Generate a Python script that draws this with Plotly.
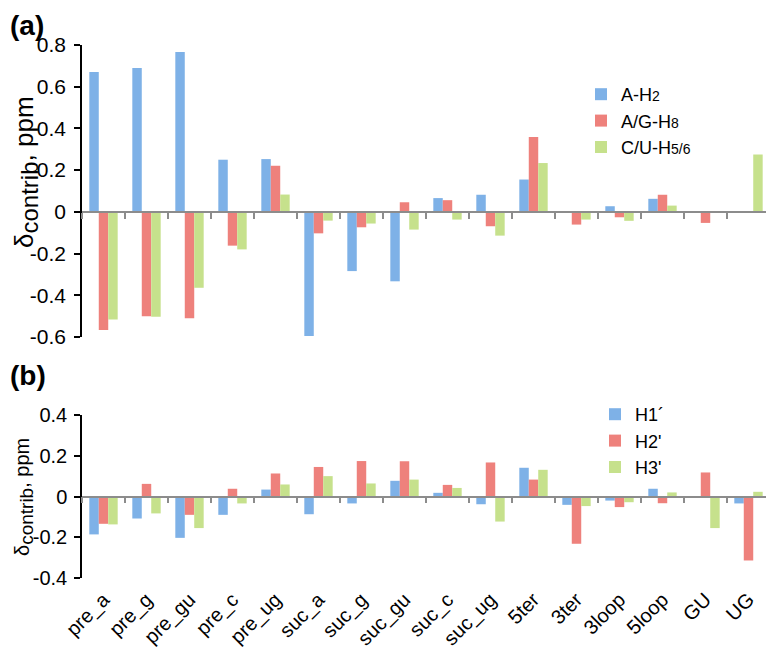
import plotly.graph_objects as go

# ---------------- data ----------------
categories = ["pre_a", "pre_g", "pre_gu", "pre_c", "pre_ug", "suc_a", "suc_g", "suc_gu",
              "suc_c", "suc_ug", "5ter", "3ter", "3loop", "5loop", "GU", "UG"]

# panel (a)
a_H2 = [0.67, 0.69, 0.766, 0.25, 0.253, -0.595, -0.284, -0.333, 0.066, 0.082,
        0.155, None, 0.027, 0.0625, None, None]
a_H8 = [-0.566, -0.50, -0.51, -0.162, 0.221, -0.103, -0.074, 0.046, 0.056, -0.069,
        0.359, -0.061, -0.026, 0.082, -0.053, None]
a_H56 = [-0.516, -0.503, -0.364, -0.18, 0.083, -0.042, -0.056, -0.085, -0.037, -0.114,
         0.234, -0.037, -0.043, 0.030, None, 0.275]

# panel (b)
b_H1 = [-0.186, -0.108, -0.203, -0.090, 0.034, -0.087, -0.034, 0.077, 0.018, -0.038,
        0.141, -0.041, -0.020, 0.038, None, -0.034]
b_H2 = [-0.134, 0.062, -0.090, 0.038, 0.113, 0.145, 0.174, 0.173, 0.057, 0.167,
        0.083, -0.232, -0.052, -0.033, 0.118, -0.314]
b_H3 = [-0.137, -0.083, -0.155, -0.034, 0.059, 0.100, 0.064, 0.083, 0.042, -0.123,
        0.131, -0.047, -0.028, 0.020, -0.155, 0.023]

names_a = ["A-H<span style='font-size:14px'>2</span>",
           "A/G-H<span style='font-size:14px'>8</span>",
           "C/U-H<span style='font-size:14px'>5/6</span>"]
names_b = ["H1´", "H2'", "H3'"]

yA_ticks = [-0.6, -0.4, -0.2, 0, 0.2, 0.4, 0.6, 0.8]
yB_ticks = [-0.4, -0.2, 0, 0.2, 0.4]

colors = ["#7eb1e7", "#ee817c", "#c6e18c"]

# ---------------- layout geometry ----------------
W, H = 774, 649
OFF = 8  # default page body margin of the browser
FONT = "Liberation Sans, Arial, sans-serif"


def fx(p):
    return (p - OFF) / (W - OFF)


def fy(p):
    return 1 - (p - OFF) / (H - OFF)


x_dom = [fx(82), fx(770)]
yA_dom = [fy(337), fy(45)]
yB_dom = [fy(578), fy(415)]
A_range = [-0.6, 0.8]
B_range = [-0.4, 0.4]
posA = yA_dom[0] + (0 - A_range[0]) / (A_range[1] - A_range[0]) * (yA_dom[1] - yA_dom[0])
posB = yB_dom[0] + (0 - B_range[0]) / (B_range[1] - B_range[0]) * (yB_dom[1] - yB_dom[0])


def fmt(v):
    return "0" if v == 0 else ("%g" % v)


fig = go.Figure()
for vals, nm, c in zip([a_H2, a_H8, a_H56], names_a, colors):
    fig.add_trace(go.Bar(x=categories, y=vals, name=nm, marker=dict(color=c, line=dict(width=0)),
                         xaxis="x", yaxis="y", legend="legend"))
for vals, nm, c in zip([b_H1, b_H2, b_H3], names_b, colors):
    fig.add_trace(go.Bar(x=categories, y=vals, name=nm, marker=dict(color=c, line=dict(width=0)),
                         xaxis="x2", yaxis="y2", legend="legend2"))
# invisible trace carrying the category labels of the lower panel
fig.add_trace(go.Scatter(x=categories, y=[0] * len(categories), mode="markers",
                         marker=dict(opacity=0), showlegend=False, hoverinfo="skip",
                         xaxis="x3", yaxis="y2"))

xcommon = dict(type="category", categoryorder="array", categoryarray=categories,
               range=[-0.5, len(categories) - 0.5], showgrid=False, zeroline=False,
               automargin=False)

fig.update_layout(
    width=W - OFF, height=H - OFF,
    margin=dict(l=0, r=0, t=0, b=0, autoexpand=False),
    paper_bgcolor="white", plot_bgcolor="rgba(0,0,0,0)",
    font=dict(family=FONT, color="black"),
    barmode="group", bargap=0.34, bargroupgap=0,
    xaxis=dict(**xcommon, domain=x_dom, anchor="free", position=posA,
               showline=True, linecolor="#8c8c8c", linewidth=1.5,
               ticks="outside", tickson="boundaries", ticklen=6, tickcolor="#8c8c8c",
               tickwidth=1.5, showticklabels=False),
    xaxis2=dict(**xcommon, domain=x_dom, anchor="free", position=posB,
                showline=True, linecolor="#8c8c8c", linewidth=1.5,
                ticks="outside", tickson="boundaries", ticklen=6, tickcolor="#8c8c8c",
                tickwidth=1.5, showticklabels=False),
    xaxis3=dict(**xcommon, domain=x_dom, anchor="y2", overlaying="x2",
                showline=False, ticks="", tickangle=-45, ticklabelstandoff=5,
                tickfont=dict(size=20, family=FONT, color="black")),
    yaxis=dict(domain=yA_dom, range=A_range, anchor="x", showgrid=False, zeroline=False,
               automargin=False,
               showline=True, linecolor="black", linewidth=1.5,
               ticks="outside", ticklen=6, tickwidth=1.5, tickcolor="black",
               ticklabelstandoff=4,
               tickvals=yA_ticks, ticktext=[fmt(v) for v in yA_ticks],
               tickfont=dict(size=21, family=FONT, color="black")),
    yaxis2=dict(domain=yB_dom, range=B_range, anchor="x2", showgrid=False, zeroline=False,
                automargin=False,
                showline=True, linecolor="black", linewidth=1.5,
                ticks="outside", ticklen=6, tickwidth=1.5, tickcolor="black",
                ticklabelstandoff=3,
                tickvals=yB_ticks, ticktext=[fmt(v) for v in yB_ticks],
                tickfont=dict(size=20, family=FONT, color="black")),
    legend=dict(x=fx(581), y=fy(76), xanchor="left", yanchor="top",
                bgcolor="rgba(0,0,0,0)", font=dict(size=18, family=FONT, color="black"),
                itemwidth=30, tracegroupgap=0),
    legend2=dict(x=fx(595), y=fy(396), xanchor="left", yanchor="top",
                 bgcolor="rgba(0,0,0,0)", font=dict(size=18, family=FONT, color="black"),
                 itemwidth=30, tracegroupgap=0),
    annotations=[
        dict(text="<b>(a)</b>", x=0, y=1, xref="paper", yref="paper", xanchor="left",
             yanchor="top", showarrow=False, font=dict(size=28, family=FONT, color="black")),
        dict(text="<b>(b)</b>", x=0, y=fy(358), xref="paper", yref="paper", xanchor="left",
             yanchor="top", showarrow=False, font=dict(size=28, family=FONT, color="black")),
        dict(text="δ<sub><span style='font-size:24px'>contrib</span></sub>, ppm",
             x=fx(26), y=fy(172), xref="paper", yref="paper",
             textangle=-90, showarrow=False, xanchor="center", yanchor="middle",
             font=dict(size=26, family=FONT, color="black")),
        dict(text="δ<sub><span style='font-size:19px'>contrib</span></sub>, ppm",
             x=fx(24), y=fy(497), xref="paper", yref="paper",
             textangle=-90, showarrow=False, xanchor="center", yanchor="middle",
             font=dict(size=20, family=FONT, color="black")),
    ],
)

fig.write_html("out.html")
